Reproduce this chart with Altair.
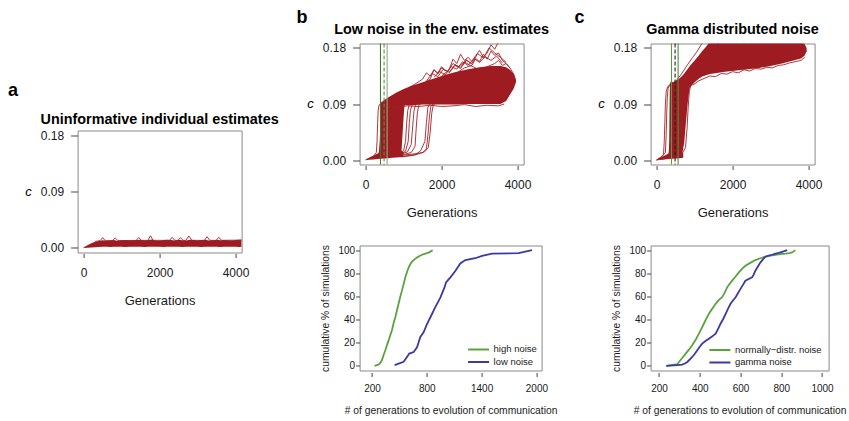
import altair as alt
import pandas as pd

FONT = "Liberation Sans"
RED = "#9d1b21"
RED_LINE = "#a41f25"
GREEN = "#5aa23e"
BLUE = "#3a3aa2"
TXT = "#1a1a1a"
TICK = "#444444"

# ---------------- panel a: uninformative individual estimates ----------------
A_GEN = [0, 100, 200, 300, 400, 500, 600, 700, 800, 900, 1000, 1100, 1200, 1300, 1400,
         1500, 1600, 1700, 1800, 1900, 2000, 2100, 2200, 2300, 2400, 2500, 2600, 2700,
         2800, 2900, 3000, 3100, 3200, 3300, 3400, 3500, 3600, 3700, 3800, 3900, 4000,
         4100, 4160]
A_LO = [0.0, 0.0004, 0.0008, 0.0012, 0.0015, 0.0018, 0.0018, 0.0016, 0.0019, 0.0020,
        0.0018, 0.0017, 0.0020, 0.0021, 0.0019, 0.0018, 0.0017, 0.0020, 0.0021, 0.0019,
        0.0018, 0.0017, 0.0020, 0.0021, 0.0019, 0.0018, 0.0017, 0.0020, 0.0021, 0.0019,
        0.0018, 0.0017, 0.0020, 0.0021, 0.0019, 0.0018, 0.0017, 0.0020, 0.0021, 0.0019,
        0.0018, 0.0017, 0.0020]
A_HI = [0.0012, 0.0045, 0.0075, 0.0098, 0.011, 0.0122, 0.0114, 0.0121, 0.0126, 0.0113,
        0.0119, 0.0127, 0.0118, 0.0122, 0.0129, 0.0131, 0.0119, 0.0126, 0.0134, 0.0121,
        0.0117, 0.0126, 0.0131, 0.0128, 0.0119, 0.0133, 0.0124, 0.0118, 0.0131, 0.0126,
        0.0121, 0.0128, 0.0133, 0.0119, 0.0125, 0.0131, 0.0122, 0.0129, 0.0124, 0.0118,
        0.0126, 0.0131, 0.0136]
A_PK_GEN = [300, 430, 500, 570, 760, 830, 900, 1380, 1450, 1520, 1690, 1760, 1830, 2260,
            2330, 2400, 2480, 2550, 2620, 2690, 2770, 2850, 3180, 3250, 3320, 3490, 3560,
            3630, 4160]
A_PK_C = [0.0105, 0.0115, 0.0165, 0.0115, 0.0118, 0.016, 0.0118, 0.012, 0.0165, 0.0122,
          0.012, 0.0195, 0.0122, 0.012, 0.017, 0.0122, 0.012, 0.0165, 0.0122, 0.012, 0.019,
          0.0122, 0.012, 0.018, 0.0122, 0.012, 0.017, 0.0122, 0.0125]

# ---------------- panel b: low noise in the env. estimates ----------------
B_BASE_GEN = [0, 100, 200, 300, 400, 500, 600, 700, 800, 900, 1000]
B_BASE_LO = [0.0, 0.0005, 0.001, 0.0015, 0.002, 0.0025, 0.003, 0.0035, 0.004, 0.0045, 0.005]
B_BASE_HI = [0.001, 0.004, 0.007, 0.010, 0.013, 0.015, 0.016, 0.017, 0.017, 0.016, 0.013]
B_RISE_C = [0.008, 0.015, 0.03, 0.05, 0.07, 0.085, 0.092]
B_RISE_LEFT = [330, 350, 370, 385, 395, 405, 415]
B_RISE_RIGHT = [930, 945, 960, 980, 1000, 1020, 1040]
B_PLAT_GEN = [400, 500, 600, 800, 1000, 1200, 1500, 1800, 2100, 2400, 2700, 3000, 3300,
              3550, 3700, 3800, 3900, 3960]
B_PLAT_LO = [0.085, 0.087, 0.088, 0.088, 0.088, 0.088, 0.089, 0.089, 0.089, 0.089, 0.09,
             0.09, 0.09, 0.09, 0.095, 0.105, 0.115, 0.125]
B_PLAT_HI = [0.092, 0.097, 0.101, 0.108, 0.114, 0.119, 0.125, 0.131, 0.137, 0.142, 0.146,
             0.149, 0.151, 0.151, 0.149, 0.145, 0.138, 0.128]

B_T1_GEN = [0, 200, 280, 300, 315, 330, 350, 420, 600]
B_T1_C = [0.0, 0.006, 0.012, 0.03, 0.06, 0.08, 0.088, 0.092, 0.098]
B_T2_GEN = [900, 1000, 1050, 1080, 1110, 1150, 1250]
B_T2_C = [0.012, 0.015, 0.03, 0.06, 0.08, 0.089, 0.094]
B_T3_GEN = [950, 1050, 1120, 1150, 1180, 1220, 1300]
B_T3_C = [0.011, 0.014, 0.03, 0.06, 0.08, 0.088, 0.092]
B_T4_GEN = [950, 1100, 1200, 1240, 1270, 1310, 1400]
B_T4_C = [0.01, 0.013, 0.025, 0.055, 0.078, 0.088, 0.093]
B_T5_GEN = [1000, 1200, 1300, 1330, 1360, 1400, 1500]
B_T5_C = [0.009, 0.012, 0.022, 0.05, 0.075, 0.088, 0.092]
B_T6_GEN = [1000, 1300, 1500, 1600, 1640, 1680, 1720, 1800]
B_T6_C = [0.008, 0.01, 0.012, 0.018, 0.04, 0.07, 0.087, 0.091]
B_T7_GEN = [1000, 1350, 1550, 1650, 1700, 1740, 1780, 1850]
B_T7_C = [0.006, 0.009, 0.013, 0.02, 0.045, 0.075, 0.088, 0.092]
B_T8_GEN = [950, 1300, 1450, 1560, 1600, 1640, 1700]
B_T8_C = [0.005, 0.008, 0.015, 0.03, 0.06, 0.085, 0.09]
B_T9_GEN = [1500, 1700, 1800, 1900, 2000, 2150, 2300, 2450, 2600, 2750, 2900]
B_T9_C = [0.122, 0.13, 0.145, 0.138, 0.148, 0.142, 0.155, 0.15, 0.158, 0.152, 0.148]
B_T10_GEN = [2000, 2200, 2300, 2400, 2500, 2600, 2700, 2800, 2900, 3000, 3100, 3200, 3300,
             3400, 3500]
B_T10_C = [0.135, 0.145, 0.162, 0.155, 0.17, 0.16, 0.165, 0.158, 0.168, 0.176, 0.165,
           0.172, 0.185, 0.178, 0.19]
B_T11_GEN = [2400, 2600, 2800, 2900, 3000, 3100, 3200, 3300, 3400, 3500, 3600, 3700, 3800]
B_T11_C = [0.14, 0.148, 0.152, 0.163, 0.158, 0.17, 0.162, 0.175, 0.168, 0.172, 0.16,
           0.155, 0.148]
B_T12_GEN = [1100, 1300, 1500, 1600, 1700, 1800, 1900, 2000, 2100]
B_T12_C = [0.115, 0.122, 0.13, 0.14, 0.135, 0.145, 0.14, 0.15, 0.143]
B_T13_GEN = [3000, 3200, 3400, 3500, 3600, 3700, 3800, 3900, 3950]
B_T13_C = [0.145, 0.15, 0.155, 0.16, 0.152, 0.155, 0.148, 0.138, 0.128]
B_T14_GEN = [500, 800, 1100, 1400, 1700, 2000, 2300, 2600, 2900, 3200, 3500, 3650]
B_T14_C = [0.086, 0.085, 0.087, 0.086, 0.088, 0.086, 0.087, 0.089, 0.086, 0.088, 0.087, 0.09]
B_T15_GEN = [1800, 1950, 2100, 2250, 2400, 2550, 2700, 2850, 3000, 3150, 3300, 3450, 3600]
B_T15_C = [0.133, 0.142, 0.137, 0.15, 0.146, 0.158, 0.152, 0.163, 0.157, 0.166, 0.16,
           0.167, 0.156]
B_T16_GEN = [2200, 2350, 2500, 2650, 2800, 2950, 3100, 3250, 3400, 3550, 3700]
B_T16_C = [0.14, 0.152, 0.147, 0.16, 0.155, 0.171, 0.164, 0.18, 0.172, 0.165, 0.157]
B_T17_GEN = [1600, 1750, 1900, 2050, 2200, 2350, 2500, 2650, 2800]
B_T17_C = [0.127, 0.139, 0.134, 0.146, 0.141, 0.153, 0.149, 0.161, 0.154]

# ---------------- panel c: gamma distributed noise ----------------
C_BASE_GEN = [0, 100, 200, 300, 400, 500, 600, 700]
C_BASE_LO = [0.0, 0.0005, 0.001, 0.0015, 0.002, 0.0025, 0.003, 0.0035]
C_BASE_HI = [0.001, 0.004, 0.007, 0.010, 0.012, 0.013, 0.013, 0.012]
C_RISE_C = [0.005, 0.015, 0.03, 0.06, 0.09, 0.11, 0.125]
C_RISE_LEFT = [300, 320, 330, 335, 340, 345, 355]
C_RISE_RIGHT = [620, 690, 730, 770, 815, 855, 900]
C_UP_GEN = [340, 400, 500, 600, 700, 800, 900, 1000, 1100, 1200, 1300, 1400, 1500, 1800,
            2100, 2400, 2700, 3000, 3300, 3600, 3800, 3900, 3950]
C_UP_LO = [0.118, 0.118, 0.118, 0.118, 0.118, 0.118, 0.118, 0.125, 0.13, 0.134, 0.136,
           0.138, 0.139, 0.142, 0.144, 0.146, 0.148, 0.151, 0.155, 0.16, 0.163, 0.168, 0.175]
C_UP_HI = [0.122, 0.124, 0.127, 0.131, 0.137, 0.145, 0.153, 0.16, 0.167, 0.175, 0.182,
           0.19, 0.19, 0.19, 0.19, 0.19, 0.19, 0.19, 0.19, 0.19, 0.19, 0.186, 0.18]

C_T1_GEN = [0, 100, 180, 200, 215, 230, 250, 290, 340]
C_T1_C = [0.0, 0.004, 0.009, 0.03, 0.06, 0.09, 0.11, 0.118, 0.121]
C_T2_GEN = [0, 150, 230, 250, 265, 280, 300, 340]
C_T2_C = [0.0, 0.006, 0.012, 0.04, 0.075, 0.1, 0.115, 0.12]
C_T3_GEN = [500, 650, 800, 950, 1050, 1120, 1180, 1230]
C_T3_C = [0.126, 0.138, 0.152, 0.165, 0.173, 0.18, 0.186, 0.19]
C_T4_GEN = [900, 1100, 1300, 1420, 1520, 1600, 1650]
C_T4_C = [0.15, 0.16, 0.17, 0.176, 0.182, 0.187, 0.19]
C_T5_GEN = [950, 1100, 1250, 1400, 1550, 1700, 1850, 2000, 2150, 2300, 2450, 2600, 2750,
            2900, 3050, 3200, 3350, 3500, 3650, 3800, 3900]
C_T5_C = [0.12, 0.127, 0.131, 0.135, 0.134, 0.139, 0.138, 0.142, 0.14, 0.145, 0.143, 0.147,
          0.146, 0.149, 0.148, 0.152, 0.153, 0.156, 0.158, 0.16, 0.165]
C_T6_GEN = [0, 300, 500, 650, 760, 800, 830, 860, 900, 1000]
C_T6_C = [0.0, 0.003, 0.005, 0.008, 0.02, 0.05, 0.085, 0.11, 0.12, 0.126]
C_T7_GEN = [3400, 3550, 3650, 3750, 3850, 3900, 3950]
C_T7_C = [0.165, 0.172, 0.168, 0.176, 0.171, 0.178, 0.174]

# vertical reference lines (generations)
VLINE_GEN = [390, 485, 565]

# ---------------- cumulative distributions ----------------
HIGH_GEN = [228, 262, 280, 295, 309, 325, 346, 360, 382, 400, 419, 437, 455, 470, 491, 510,
            528, 547, 565, 585, 601, 620, 638, 665, 693, 720, 748, 775, 802, 835, 864]
HIGH_PCT = [0, 0.8, 1.5, 3.2, 5, 9, 13.5, 17, 22, 26.5, 31, 37, 42, 47, 53.6, 60, 65, 71,
            76.5, 81.5, 85, 88, 90, 92, 93.6, 95, 96, 96.8, 97.4, 98.5, 100]
LOW_GEN = [448, 491, 546, 583, 608, 656, 693, 729, 765, 802, 849, 893, 948, 995, 1010, 1058,
           1112, 1167, 1222, 1331, 1405, 1514, 1805, 1952]
LOW_PCT = [0.6, 2, 3.5, 7.7, 10.6, 12, 16, 25, 29, 36, 43.5, 50.7, 59, 68, 72, 76.5, 82,
           88.5, 91.4, 93, 95, 97, 97.4, 100]
NORM_GEN = [236, 290, 298, 315, 331, 347, 363, 380, 396, 408, 420, 433, 445, 462, 478, 494,
            510, 522, 535, 547, 559, 575, 592, 608, 624, 648, 673, 697, 722, 746, 771, 796,
            820, 840, 853, 869]
NORM_PCT = [0, 1.4, 3.4, 7, 10.6, 14, 17.8, 22.5, 27.8, 32, 36.4, 41, 45, 49.5, 53.6, 57,
            59.3, 63, 68, 71, 73.6, 77, 80.8, 84, 86.5, 89, 91.4, 93, 94.3, 95.2, 96, 96.5,
            97, 97.5, 98, 100]
GAMMA_GEN = [236, 290, 314, 327, 339, 351, 363, 376, 388, 400, 412, 428, 445, 462, 478, 490,
             502, 515, 527, 539, 551, 563, 576, 588, 600, 612, 624, 640, 657, 665, 673, 686,
             698, 710, 722, 738, 755, 771, 788, 808, 829]
GAMMA_PCT = [0, 0.6, 1.1, 2, 3.4, 5.5, 7.7, 10.5, 13.5, 16.5, 19.2, 21.5, 23.5, 25.5, 27.8,
             32, 36.4, 40.5, 45, 49.5, 53.6, 56.5, 59.3, 63, 66.5, 70, 73.6, 75, 76.5, 79,
             82.2, 86, 89.4, 92, 94.3, 95.2, 96, 97, 97.7, 98.8, 100]


def long_df(traces):
    rows = []
    for name, (g, c) in traces.items():
        for gi, ci in zip(g, c):
            rows.append({"trace": name, "gen": gi, "c": ci})
    return pd.DataFrame(rows)


TOP_W = 164


def label(text, x, y, size, weight="bold", style="normal", align="left", baseline="alphabetic"):
    return alt.Chart(pd.DataFrame({"t": [text]})).mark_text(
        font=FONT, fontSize=size, fontWeight=weight, fontStyle=style, color="#000000",
        align=align, baseline=baseline).encode(text="t:N", x=alt.value(x), y=alt.value(y))


def top_panel(letter, letter_x, letter_y, heading, heading_y, height,
              bands, hbands, traces, vlines):
    xs = alt.Scale(domain=[-160, 4160], nice=False, zero=False)
    ys = alt.Scale(domain=[-0.0072, 0.1872], nice=False, zero=False)
    xax = alt.Axis(title="Generations", values=[0, 2000, 4000], format="d", grid=False,
                   domain=False, offset=1, tickSize=4, tickColor=TICK, labelFontSize=12,
                   labelPadding=10, labelColor=TXT, labelFlush=False, labelOverlap=False,
                   titleFontSize=13, titleFontWeight="normal", titlePadding=16,
                   titleColor=TXT)
    yax = alt.Axis(title=None, values=[0, 0.09, 0.18], format=".2f", grid=False,
                   domain=False, tickSize=7, tickColor=TICK, labelFontSize=12,
                   labelPadding=7, labelColor=TXT, labelFlush=False, labelOverlap=False)

    def X(f):
        return alt.X(f, type="quantitative", scale=xs, axis=xax)

    def Y(f):
        return alt.Y(f, type="quantitative", scale=ys, axis=yax)

    layers = []
    for g, lo, hi in bands:
        df = pd.DataFrame({"gen": g, "lo": lo, "hi": hi})
        layers.append(alt.Chart(df).mark_area(color=RED, clip=True).encode(
            x=X("gen"), y=Y("lo"), y2=alt.Y2("hi")))
    for cc, left, right in hbands:
        df = pd.DataFrame({"c": cc, "left": left, "right": right})
        layers.append(alt.Chart(df).mark_area(color=RED, clip=True, orient="horizontal").encode(
            y=Y("c"), x=X("left"), x2=alt.X2("right")))
    layers.append(alt.Chart(long_df(traces)).mark_line(
        color=RED_LINE, strokeWidth=0.9, clip=True).encode(
        x=X("gen"), y=Y("c"), detail="trace:N"))
    for g, col, dash in vlines:
        kw = {"color": col, "strokeWidth": 1.1}
        if dash:
            kw["strokeDash"] = [4, 2]
        layers.append(alt.Chart(pd.DataFrame({"gen": [g]})).mark_rule(**kw).encode(x=X("gen")))
    layers.append(label("c", -49, height / 2, 13, weight="normal", style="italic",
                        align="center", baseline="middle"))
    layers.append(label(letter, letter_x, letter_y, 18))
    layers.append(label(heading, TOP_W / 2, heading_y, 14.4, align="center"))
    return alt.layer(*layers).properties(width=TOP_W, height=height)


def ecdf_panel(series, xdom, xticks, width, legend_x, legend_y):
    rows = []
    names = []
    for name, g, p in series:
        names.append(name)
        for gi, pi in zip(g, p):
            rows.append({"series": name, "gen": gi, "pct": pi})
    df = pd.DataFrame(rows)
    xs = alt.Scale(domain=xdom, nice=False, zero=False)
    ys = alt.Scale(domain=[-4, 104], nice=False, zero=False)
    xax = alt.Axis(title="# of generations to evolution of communication", values=xticks,
                   format="d", grid=False, domain=False, offset=2, tickSize=4,
                   tickColor=TICK, labelFontSize=10, labelPadding=7, labelColor=TXT,
                   labelFlush=False, labelOverlap=False, titleFontSize=10.3,
                   titleFontWeight="normal", titlePadding=12, titleColor=TXT)
    yax = alt.Axis(title="cumulative % of simulations", values=[0, 20, 40, 60, 80, 100],
                   grid=False, domain=False, tickSize=4, tickColor=TICK, labelFontSize=10,
                   labelPadding=1, labelColor=TXT, labelFlush=False, labelOverlap=False,
                   titleFontSize=10.3, titleFontWeight="normal", titlePadding=7,
                   titleColor=TXT)
    leg = alt.Legend(title=None, orient="none", legendX=legend_x, legendY=legend_y,
                     symbolType="M-2.1,0L2.1,0", symbolSize=100, symbolStrokeWidth=2,
                     labelFontSize=9.5, labelFont=FONT, labelColor=TXT, labelOffset=9,
                     rowPadding=1.5, padding=0)
    return alt.Chart(df).mark_line(strokeWidth=1.8, clip=True).encode(
        x=alt.X("gen:Q", scale=xs, axis=xax),
        y=alt.Y("pct:Q", scale=ys, axis=yax),
        color=alt.Color("series:N", scale=alt.Scale(domain=names, range=[GREEN, BLUE]),
                        legend=leg),
    ).properties(width=width, height=125)


panel_a = top_panel(
    "a", -69.5, -34.5, "Uninformative individual estimates", -6.5, 122,
    bands=[(A_GEN, A_LO, A_HI)], hbands=[],
    traces={"peaks": (A_PK_GEN, A_PK_C)}, vlines=[])

panel_b = top_panel(
    "b", -63, -21, "Low noise in the env. estimates", -10, 121,
    bands=[(B_BASE_GEN, B_BASE_LO, B_BASE_HI), (B_PLAT_GEN, B_PLAT_LO, B_PLAT_HI)],
    hbands=[(B_RISE_C, B_RISE_LEFT, B_RISE_RIGHT)],
    traces={"t1": (B_T1_GEN, B_T1_C), "t2": (B_T2_GEN, B_T2_C), "t3": (B_T3_GEN, B_T3_C),
            "t4": (B_T4_GEN, B_T4_C), "t5": (B_T5_GEN, B_T5_C), "t6": (B_T6_GEN, B_T6_C),
            "t7": (B_T7_GEN, B_T7_C), "t8": (B_T8_GEN, B_T8_C), "t9": (B_T9_GEN, B_T9_C),
            "t10": (B_T10_GEN, B_T10_C), "t11": (B_T11_GEN, B_T11_C),
            "t12": (B_T12_GEN, B_T12_C), "t13": (B_T13_GEN, B_T13_C),
            "t14": (B_T14_GEN, B_T14_C), "t15": (B_T15_GEN, B_T15_C),
            "t16": (B_T16_GEN, B_T16_C), "t17": (B_T17_GEN, B_T17_C)},
    vlines=[(VLINE_GEN[0], "#3f7a28", False), (VLINE_GEN[1], "#777777", True),
            (VLINE_GEN[2], "#7fb866", False)])

panel_c = top_panel(
    "c", -76, -21, "Gamma distributed noise", -10, 121,
    bands=[(C_BASE_GEN, C_BASE_LO, C_BASE_HI), (C_UP_GEN, C_UP_LO, C_UP_HI)],
    hbands=[(C_RISE_C, C_RISE_LEFT, C_RISE_RIGHT)],
    traces={"t1": (C_T1_GEN, C_T1_C), "t2": (C_T2_GEN, C_T2_C), "t3": (C_T3_GEN, C_T3_C),
            "t4": (C_T4_GEN, C_T4_C), "t5": (C_T5_GEN, C_T5_C), "t6": (C_T6_GEN, C_T6_C),
            "t7": (C_T7_GEN, C_T7_C)},
    vlines=[(VLINE_GEN[0], "#5f9a45", False), (VLINE_GEN[1], "#222222", True),
            (VLINE_GEN[2], "#4b8f35", False)])

ecdf_b = ecdf_panel([("high noise", HIGH_GEN, HIGH_PCT), ("low noise", LOW_GEN, LOW_PCT)],
                    [64, 2057], [200, 800, 1400, 2000], 182, 113, 98)
ecdf_c = ecdf_panel([("normally\u2212distr. noise", NORM_GEN, NORM_PCT),
                     ("gamma noise", GAMMA_GEN, GAMMA_PCT)],
                    [159, 1032], [200, 400, 600, 800, 1000], 178, 63.3, 98.5)

spacer = alt.Chart(pd.DataFrame({"v": [0]})).mark_point(opacity=0).encode(
    x=alt.X("v:Q", axis=None), y=alt.Y("v:Q", axis=None)
).properties(width=10, height=86.8, view=alt.ViewBackground(stroke="transparent"))

col_a = alt.vconcat(spacer, panel_a, spacing=0, bounds="flush")
col_b = alt.vconcat(panel_b, ecdf_b, spacing=81, bounds="flush").resolve_scale(
    color="independent")
col_c = alt.vconcat(panel_c, ecdf_c, spacing=81, bounds="flush").resolve_scale(
    color="independent")

chart = alt.hconcat(col_a, col_b, col_c, spacing=16).resolve_scale(
    color="independent"
).resolve_legend(color="independent").properties(
    padding={"left": 7.6, "top": 7.5, "right": 0, "bottom": 0}
).configure(font=FONT).configure_view(stroke="#8a8a8a", strokeWidth=1).configure_axis(
    labelFont=FONT, titleFont=FONT
).configure_legend(labelFont=FONT)

chart.save("out.html", embed_options={"renderer": "svg", "actions": False})
